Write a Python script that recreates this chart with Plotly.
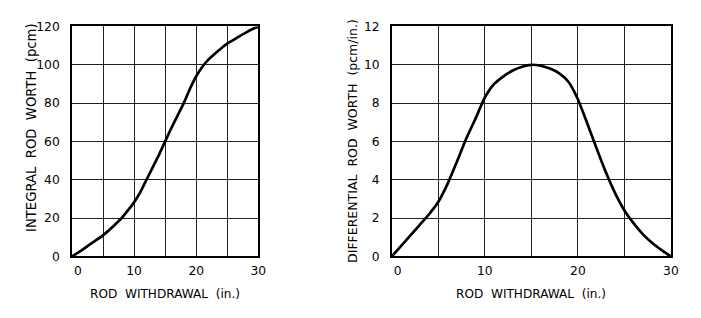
import plotly.graph_objects as go

# Integral rod worth (pcm) vs rod withdrawal (in.)
int_x = list(range(0, 31))
int_y = [0, 2, 4.2, 6.5, 8.7, 11, 13.8, 16.8, 20, 24, 28.2, 33.5, 40, 46.5, 53, 60,
         67, 73.5, 80, 87.5, 94, 99, 102.8, 105.8, 108.5, 111, 113, 115, 116.8, 118.5, 120]

# Differential rod worth (pcm/in.) vs rod withdrawal (in.)
dif_x = list(range(0, 31))
dif_y = [0, 0.55, 1.1, 1.65, 2.2, 2.85, 3.8, 4.95, 6.15, 7.2, 8.3, 9.0, 9.4, 9.7, 9.9, 10,
         9.95, 9.8, 9.55, 9.1, 8.2, 6.95, 5.65, 4.4, 3.3, 2.4, 1.72, 1.15, 0.7, 0.33, 0]

x_ticks = [0, 10, 20, 30]
x_ticktext = ["\u00a0\u00a0\u00a00", "10", "20", "30"]
int_yticks = [0, 20, 40, 60, 80, 100, 120]
dif_yticks = [0, 2, 4, 6, 8, 10, 12]

W, H = 701, 318
OFF = 8                      # page body margin
SX, SY = 701 / 717, 318 / 334  # observed page-to-picture scale
FONT = "DejaVu Sans"

def px(X):
    return (X / SX - OFF) / W

def py(Y):
    return 1 - (Y / SY - OFF) / H

fig = go.Figure()
fig.add_trace(go.Scatter(x=int_x, y=int_y, mode="lines",
                         line=dict(color="black", width=2.7, shape="spline", smoothing=0.6),
                         xaxis="x", yaxis="y", showlegend=False, hoverinfo="skip"))
fig.add_trace(go.Scatter(x=dif_x, y=dif_y, mode="lines",
                         line=dict(color="black", width=2.7, shape="spline", smoothing=0.5),
                         xaxis="x2", yaxis="y2", showlegend=False, hoverinfo="skip"))

def xax(domain, anchor):
    return dict(domain=domain, anchor=anchor, range=[0, 30],
                tickvals=x_ticks, ticktext=x_ticktext,
                showgrid=False, zeroline=False,
                showline=True, mirror=True, linecolor="black", linewidth=1.5,
                ticks="", ticklabelstandoff=2,
                tickfont=dict(family=FONT, size=12.3, color="black"),
                minor=dict(dtick=5, tick0=0, showgrid=True, gridcolor="#222", gridwidth=1))

def yax(domain, anchor, rng, ticks):
    return dict(domain=domain, anchor=anchor, range=rng,
                tickvals=ticks, showgrid=True, gridcolor="#222", gridwidth=1,
                zeroline=False, showline=True, mirror=True, linecolor="black", linewidth=1.5,
                ticks="", ticklabelstandoff=8,
                tickfont=dict(family=FONT, size=12.3, color="black"))

yd = [py(256), py(27)]
fig.update_layout(
    width=W, height=H,
    margin=dict(l=0, r=0, t=0, b=0),
    paper_bgcolor="white", plot_bgcolor="white",
    xaxis=xax([px(70), px(257)], "y"),
    yaxis=yax(yd, "x", [0, 120], int_yticks),
    xaxis2=xax([px(391), px(671)], "y2"),
    yaxis2=yax(yd, "x2", [0, 12], dif_yticks),
    annotations=[
        dict(text="ROD\u00a0\u00a0WITHDRAWAL\u00a0\u00a0(in.)", x=px(163.5), y=py(293),
             xref="paper", yref="paper", showarrow=False, xanchor="center", yanchor="middle",
             font=dict(family=FONT, size=12.1, color="black")),
        dict(text="ROD\u00a0\u00a0WITHDRAWAL\u00a0\u00a0(in.)", x=px(531), y=py(293),
             xref="paper", yref="paper", showarrow=False, xanchor="center", yanchor="middle",
             font=dict(family=FONT, size=12.1, color="black")),
        dict(text="INTEGRAL\u00a0\u00a0ROD\u00a0\u00a0WORTH\u00a0\u00a0(pcm)", x=px(30), y=py(128),
             xref="paper", yref="paper", showarrow=False, xanchor="center", yanchor="middle",
             textangle=-90, font=dict(family=FONT, size=13.2, color="black")),
        dict(text="DIFFERENTIAL\u00a0\u00a0ROD\u00a0\u00a0WORTH\u00a0\u00a0(pcm/in.)", x=px(352), y=py(141),
             xref="paper", yref="paper", showarrow=False, xanchor="center", yanchor="middle",
             textangle=-90, font=dict(family=FONT, size=12.5, color="black")),
    ],
)

fig.write_html("out.html")
